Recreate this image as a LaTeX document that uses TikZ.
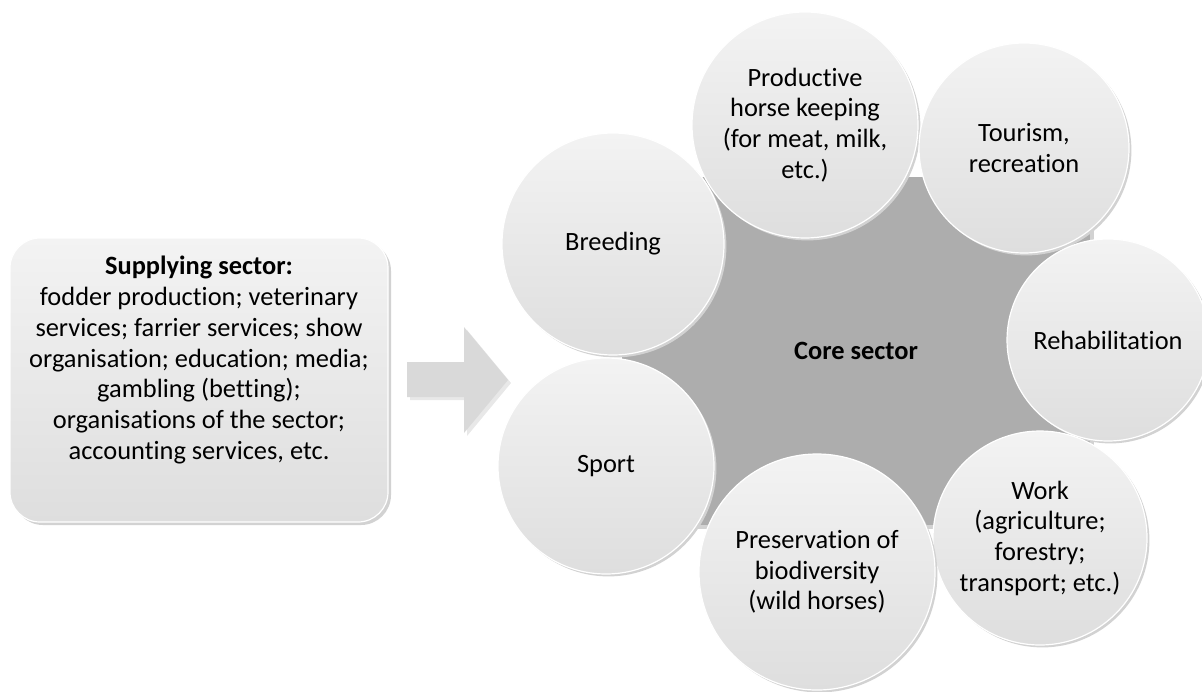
\documentclass[tikz,border=0pt]{standalone}
\usepackage{fontspec}
\setmainfont{Carlito}[Ligatures={NoCommon}]
\definecolor{coregray}{HTML}{ADADAD}
\definecolor{lighttop}{HTML}{F3F3F3}
\definecolor{lightbot}{HTML}{DEDEDE}
\definecolor{shade}{HTML}{D2D2D2}
\definecolor{arrowgray}{HTML}{D9D9D9}
\definecolor{arrowshade}{HTML}{E8E8E8}
\usetikzlibrary{positioning,shadows}
\newcommand\sectfont{\fontsize{13.2}{15.35}\selectfont}
\tikzset{
  sector/.style={circle,draw=white,line width=0.6pt,top color=lighttop,bottom color=lightbot,
                 align=center,inner sep=0pt,font=\sectfont,
                 drop shadow={shadow xshift=1.2pt,shadow yshift=-1.2pt,fill=shade,opacity=1}},
  core/.style={rectangle,fill=coregray,minimum width=234pt,minimum height=174pt,
               font=\sectfont\bfseries,
               drop shadow={shadow xshift=2pt,shadow yshift=-2pt,fill=shade,opacity=1}},
  supply/.style={rectangle,rounded corners=15pt,draw=white,line width=0.6pt,
                 top color=lighttop,bottom color=lightbot,minimum width=189pt,minimum height=142pt,
                 drop shadow={shadow xshift=1.5pt,shadow yshift=-1.5pt,fill=shade,opacity=1}},
  txt/.style={align=center,font=\sectfont,inner sep=0pt}
}

\begin{document}
\begin{tikzpicture}[x=0.5pt,y=-0.5pt]
    \useasboundingbox (0,0) rectangle (1202,691);
    % supplying sector
    \node[supply] (supply) at (199,380) {};
    \node[txt] (supplytext) at (199,360) {\textbf{Supplying sector:}\\fodder production; veterinary\\services; farrier services; show\\organisation; education; media;\\gambling (betting);\\organisations of the sector;\\accounting services, etc.};
    % block arrow
    \fill[arrowgray,drop shadow={shadow xshift=1.5pt,shadow yshift=-1.5pt,fill=arrowshade,opacity=1}]
      (407,362) -- (464,362) -- (464,327) -- (508,380) -- (464,433) -- (464,397) -- (407,397) -- cycle;
    % core and surrounding sectors
    \node[core] (core) at (856,351) {Core sector};
    \node[sector,minimum size=111pt] (breed) at (613,244) {Breeding};
    \node[sector,minimum size=113pt] (prod)  at (805,125) {Productive\\horse keeping\\(for meat, milk,\\etc.)};
    \node[sector,minimum size=105pt] (tour)  at (1024,148) {Tourism,\\recreation};
    \node[sector,minimum size=101pt] (rehab) at (1108,340) {Rehabilitation};
    \node[sector,minimum size=107pt] (work)  at (1040,538) {Work\\(agriculture;\\forestry;\\transport; etc.)};
    \node[sector,minimum size=118pt] (pres)  at (817,572) {Preservation of\\biodiversity\\(wild horses)};
    \node[sector,minimum size=108pt] (sport) at (606,466) {Sport};
\end{tikzpicture}
\end{document}
